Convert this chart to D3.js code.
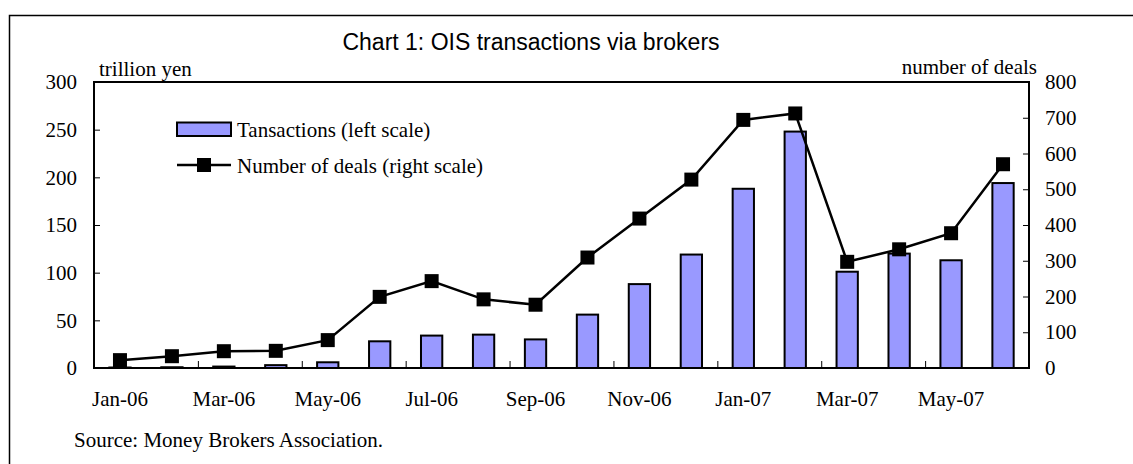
<!DOCTYPE html>
<html>
<head>
<meta charset="utf-8">
<script src="https://cdn.jsdelivr.net/npm/d3@7"></script>
<style>
  body { margin: 0; background: #fff; }
  svg { display: block; }
  .serif { font-family: "Liberation Serif", "Times New Roman", serif; }
</style>
</head>
<body>
<div id="chart"></div>
<script>
// Categories (months)
const months = ["Jan-06", "Feb-06", "Mar-06", "Apr-06", "May-06", "Jun-06",
  "Jul-06", "Aug-06", "Sep-06", "Oct-06", "Nov-06", "Dec-06",
  "Jan-07", "Feb-07", "Mar-07", "Apr-07", "May-07", "Jun-07"];

// Transactions, trillion yen (left scale)
const transactions = [0.5, 0.8, 1.5, 3, 6, 28, 34, 35, 30, 56, 88, 119, 188, 248, 101, 120, 113, 194];

// Number of deals (right scale)
const deals = [22, 33, 47, 48, 78, 199, 243, 192, 177, 309, 418, 527, 694, 712, 297, 332, 377, 570];

// Tick values
const leftTicks = [0, 50, 100, 150, 200, 250, 300];
const rightTicks = [0, 100, 200, 300, 400, 500, 600, 700, 800];
const labelMonths = ["Jan-06", "Mar-06", "May-06", "Jul-06", "Sep-06", "Nov-06", "Jan-07", "Mar-07", "May-07"];

const w = 1133;
const h = 464;
const plot = { left: 94, right: 1029, top: 82, bottom: 368 };

const svg = d3.select("#chart")
  .append("svg")
  .attr("width", w)
  .attr("height", h);

// outer frame (runs off the right and bottom edges)
svg.append("rect")
  .attr("x", 9.5).attr("y", 15.5)
  .attr("width", 1200).attr("height", 600)
  .attr("fill", "none").attr("stroke", "#000").attr("stroke-width", 1.5);

// scales
const x = d3.scaleBand()
  .domain(months)
  .range([plot.left, plot.right])
  .padding(0);

const xIdx = d3.scaleLinear()
  .domain([0, months.length])
  .range([plot.left, plot.right]);

const yL = d3.scaleLinear().domain([0, 300]).range([plot.bottom, plot.top]);
const yR = d3.scaleLinear().domain([0, 800]).range([plot.bottom, plot.top]);

const barW = x.bandwidth() * 0.41;

// bars
svg.append("g")
  .selectAll("rect")
  .data(transactions)
  .enter()
  .append("rect")
  .attr("x", (d, i) => x(months[i]) + (x.bandwidth() - barW) / 2)
  .attr("y", d => yL(d))
  .attr("width", barW)
  .attr("height", d => yL(0) - yL(d))
  .attr("fill", "#9999ff")
  .attr("stroke", "#000")
  .attr("stroke-width", 2);

// line
const line = d3.line()
  .x((d, i) => x(months[i]) + x.bandwidth() / 2)
  .y(d => yR(d));

svg.append("path")
  .datum(deals)
  .attr("d", line)
  .attr("fill", "none")
  .attr("stroke", "#000")
  .attr("stroke-width", 2.5);

const mk = 14;
svg.append("g")
  .selectAll("rect")
  .data(deals)
  .enter()
  .append("rect")
  .attr("x", (d, i) => x(months[i]) + x.bandwidth() / 2 - mk / 2)
  .attr("y", d => yR(d) - mk / 2)
  .attr("width", mk)
  .attr("height", mk)
  .attr("fill", "#000");

// plot frame
svg.append("rect")
  .attr("x", plot.left).attr("y", plot.top)
  .attr("width", plot.right - plot.left)
  .attr("height", plot.bottom - plot.top)
  .attr("fill", "none").attr("stroke", "#000").attr("stroke-width", 2);

// axes
const fontSize = "21px";

const leftAxis = svg.append("g")
  .attr("transform", "translate(" + plot.left + ",0)")
  .call(d3.axisLeft(yL).tickValues(leftTicks).tickSizeInner(-6).tickSizeOuter(0).tickPadding(17));

const rightAxis = svg.append("g")
  .attr("transform", "translate(" + plot.right + ",0)")
  .call(d3.axisRight(yR).tickValues(rightTicks).tickSizeInner(-6).tickSizeOuter(0).tickPadding(16));

const bottomLabels = svg.append("g")
  .attr("transform", "translate(0," + plot.bottom + ")")
  .call(d3.axisBottom(x).tickValues(labelMonths).tickSize(0).tickPadding(23));

const bottomTicks = svg.append("g")
  .attr("transform", "translate(0," + plot.bottom + ")")
  .call(d3.axisBottom(xIdx).tickValues([2, 4, 6, 8, 10, 12, 14, 16]).tickSize(-7).tickFormat(""));

[leftAxis, rightAxis, bottomLabels, bottomTicks].forEach(g => {
  g.select(".domain").remove();
  g.selectAll("line").attr("stroke", "#000").attr("stroke-width", 1);
  g.selectAll("text")
    .attr("class", "serif")
    .style("font-size", fontSize)
    .attr("fill", "#000");
});
leftAxis.selectAll(".tick line").filter(d => d === 0 || d === 300).remove();
rightAxis.selectAll(".tick line").filter(d => d === 0 || d === 800).remove();

// title
svg.append("text")
  .attr("x", 531).attr("y", 50)
  .attr("text-anchor", "middle")
  .style("font-family", "'Liberation Sans', Arial, sans-serif")
  .style("font-size", "23px")
  .text("Chart 1: OIS transactions via brokers");

// axis unit labels
svg.append("text")
  .attr("class", "serif")
  .attr("x", 99).attr("y", 76)
  .style("font-size", fontSize)
  .text("trillion yen");

svg.append("text")
  .attr("class", "serif")
  .attr("x", 1037).attr("y", 74)
  .attr("text-anchor", "end")
  .style("font-size", fontSize)
  .text("number of deals");

// source
svg.append("text")
  .attr("class", "serif")
  .attr("x", 74).attr("y", 447)
  .style("font-size", fontSize)
  .text("Source: Money Brokers Association.");

// legend
const legend = svg.append("g");
legend.append("rect")
  .attr("x", 177).attr("y", 122.5)
  .attr("width", 54).attr("height", 13.5)
  .attr("fill", "#9999ff").attr("stroke", "#000").attr("stroke-width", 2);
legend.append("text")
  .attr("class", "serif")
  .attr("x", 237).attr("y", 137)
  .style("font-size", fontSize)
  .text("Tansactions (left scale)");

legend.append("line")
  .attr("x1", 177).attr("x2", 231)
  .attr("y1", 165).attr("y2", 165)
  .attr("stroke", "#000").attr("stroke-width", 2.5);
legend.append("rect")
  .attr("x", 204 - mk / 2).attr("y", 165 - mk / 2)
  .attr("width", mk).attr("height", mk)
  .attr("fill", "#000");
legend.append("text")
  .attr("class", "serif")
  .attr("x", 237).attr("y", 172.5)
  .style("font-size", fontSize)
  .text("Number of deals (right scale)");
</script>
</body>
</html>
